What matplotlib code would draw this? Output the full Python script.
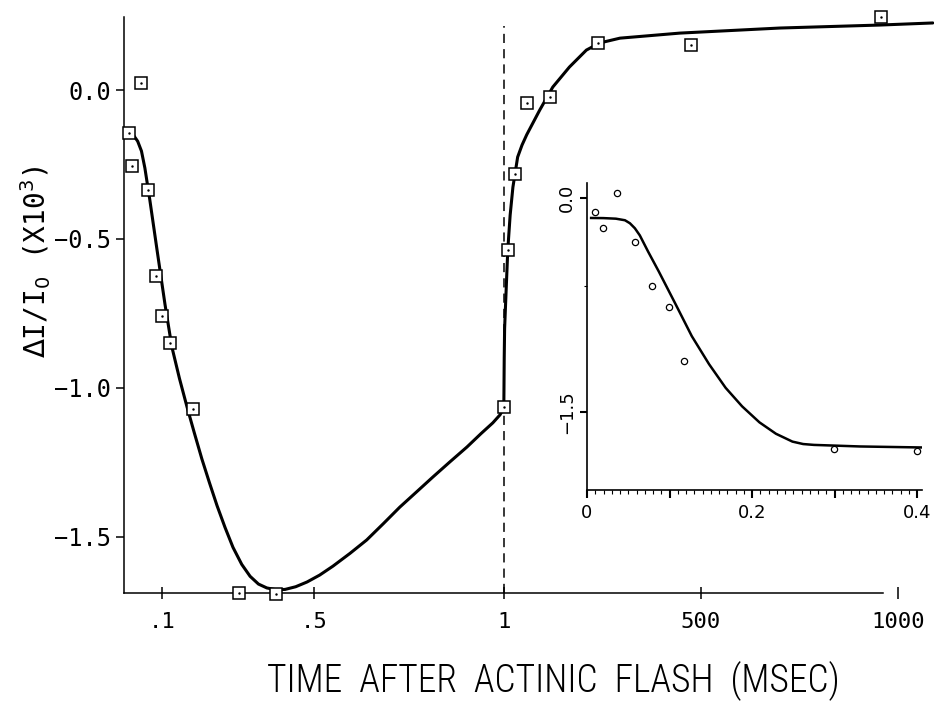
import numpy as np
import matplotlib
matplotlib.use("Agg")
import matplotlib.pyplot as plt
from matplotlib.ticker import FixedLocator, MultipleLocator

# main panel, measured squares (time in ms, dI/I0 x 10^3)
fast_t = [0.013, 0.021, 0.045, 0.064, 0.083, 0.100, 0.121, 0.182, 0.303, 0.400, 1.0]
fast_y = [-0.145, -0.255, 0.023, -0.337, -0.624, -0.758, -0.850, -1.070, -1.688, -1.690, -1.064]
slow_t = [11, 29, 59, 117, 239, 474, 955]
slow_y = [-0.537, -0.282, -0.044, -0.023, 0.158, 0.151, 0.245]

# fitted curve of the main panel
fit_t = [0.0, 0.012, 0.024, 0.036, 0.046, 0.055, 0.068, 0.087, 0.108, 0.126, 0.146,
         0.166, 0.185, 0.205, 0.225, 0.245, 0.266, 0.287, 0.310, 0.332, 0.354, 0.376,
         0.400, 0.424, 0.452, 0.482, 0.515, 0.550, 0.595, 0.639, 0.683, 0.726, 0.770,
         0.813, 0.858, 0.903, 0.940, 0.971, 0.990, 1.0, 2, 3, 6, 11, 17, 24, 36, 47,
         59, 92, 125, 167, 210, 244, 295, 447, 700, 953, 1087]
fit_y = [-0.145, -0.138, -0.150, -0.172, -0.205, -0.262, -0.369, -0.537, -0.720, -0.862, -0.968,
         -1.064, -1.150, -1.238, -1.318, -1.395, -1.468, -1.535, -1.592, -1.632, -1.658, -1.671,
         -1.677, -1.676, -1.667, -1.651, -1.628, -1.598, -1.555, -1.510, -1.455, -1.400, -1.349,
         -1.299, -1.248, -1.198, -1.153, -1.117, -1.090, -1.066, -0.900, -0.800, -0.700, -0.537,
         -0.420, -0.326, -0.225, -0.185, -0.150, -0.067, 0.010, 0.077, 0.134, 0.158, 0.174,
         0.191, 0.208, 0.218, 0.225]

# inset (first 0.4 ms)
ins_t = [0.0098, 0.0195, 0.0366, 0.0585, 0.079, 0.099, 0.118, 0.299, 0.400]
ins_y = [-0.098, -0.210, 0.035, -0.308, -0.615, -0.762, -1.140, -1.760, -1.770]
ins_fit_t = [0.005, 0.020, 0.035, 0.046, 0.052, 0.058, 0.064, 0.074, 0.087, 0.107, 0.127,
             0.148, 0.168, 0.188, 0.209, 0.229, 0.249, 0.262, 0.275, 0.331, 0.406]
ins_fit_y = [-0.140, -0.141, -0.145, -0.156, -0.177, -0.212, -0.262, -0.375, -0.515, -0.740,
             -0.968, -1.165, -1.330, -1.460, -1.572, -1.652, -1.707, -1.724, -1.730, -1.741, -1.748]

x_ticks = [0.1, 0.5, 1, 500, 1000]
x_ticklabels = ['.1', '.5', '1', '500', '1000']
y_ticks = [0.0, -0.5, -1.0, -1.5]

# broken time axis: 0..1 ms linear, then 1..1000 ms compressed
K = 0.00104

def fwd(t):
    t = np.asarray(t, dtype=float)
    return np.where(t <= 1, t, 1 + (t - 1) * K)

def inv(u):
    u = np.asarray(u, dtype=float)
    return np.where(u <= 1, u, 1 + (u - 1) / K)

mono = ['DejaVu Sans Mono']

W, H = 937, 723
fig = plt.figure(figsize=(W / 100, H / 100), dpi=100)
ax = fig.add_axes([124 / W, 1 - 593 / H, 810 / W, 576 / H])
ax.set_xscale('function', functions=(fwd, inv))
ax.set_xlim(0, 1090)
ax.set_ylim(-1.688, 0.245)

ax.plot(fit_t, fit_y, color='black', lw=2.2, solid_capstyle='round', solid_joinstyle='round')
for tt, yy in [(fast_t, fast_y), (slow_t, slow_y)]:
    ax.plot(tt, yy, 's', ms=8.5, mfc='white', mec='black', mew=1.1, clip_on=False, zorder=3)
    ax.plot(tt, yy, '.', ms=1.5, color='black', clip_on=False, zorder=4)
ax.vlines(1, -1.688, 0.215, colors='black', lw=1.1, linestyles=(0, (6, 4)))

for s in ['top', 'right']:
    ax.spines[s].set_visible(False)
ax.spines['left'].set_linewidth(1.1)
ax.spines['bottom'].set_linewidth(1.1)
ax.spines['bottom'].set_bounds(0, 960)

ax.xaxis.set_major_locator(FixedLocator(x_ticks))
ax.set_xticklabels(x_ticklabels, family=mono, fontsize=16)
ax.xaxis.set_minor_locator(FixedLocator([]))
ax.tick_params(axis='x', direction='inout', length=8, width=1.1, pad=10)
ax.set_yticks(y_ticks)
ax.set_yticklabels(['0.0', '\u22120.5', '\u22121.0', '\u22121.5'], family=mono, fontsize=17)
ax.tick_params(axis='y', direction='out', length=6, width=1.1, pad=3)

fig.text(36 / W, 1 - 262 / H, r'$\Delta$I/I$_0$ (X10$^3$)', rotation=90,
         ha='center', va='center', family=mono, fontsize=20)
fig.text(553 / W, 1 - 681 / H, 'TIME  AFTER  ACTINIC  FLASH  (MSEC)',
         ha='center', va='center', family=['Roboto Condensed', 'DejaVu Sans'],
         weight='light', fontsize=27)

# inset
ins = fig.add_axes([587 / W, 1 - 490 / H, 335 / W, 307 / H])
ins.set_xlim(0, 0.406)
ins.set_ylim(-2.046, 0.105)
ins.plot(ins_fit_t, ins_fit_y, color='black', lw=1.8, solid_joinstyle='round')
ins.plot(ins_t, ins_y, 'o', ms=4.5, mfc='white', mec='black', mew=0.9, clip_on=False)
for s in ['top', 'right']:
    ins.spines[s].set_visible(False)
ins.spines['left'].set_linewidth(1.2)
ins.spines['bottom'].set_linewidth(1.2)
ins.set_xticks([0, 0.1, 0.2, 0.3, 0.4])
ins.set_xticklabels(['0', '', '0.2', '', '0.4'], fontsize=13)
ins.xaxis.set_minor_locator(MultipleLocator(0.01))
ins.tick_params(axis='x', which='major', direction='out', length=6, width=1.5, pad=4)
ins.tick_params(axis='x', which='minor', direction='out', length=3, width=0.8)
ins.set_yticks([0.0, -1.5])
ins.set_yticklabels(['0.0', '\u22121.5'], fontsize=13, rotation=90, va='center')
ins.yaxis.set_minor_locator(FixedLocator([-0.62]))
ins.tick_params(axis='y', which='major', direction='out', length=5, width=1.5, pad=3)
ins.tick_params(axis='y', which='minor', direction='out', length=2, width=0.8)

fig.savefig('out.png', dpi=100)
